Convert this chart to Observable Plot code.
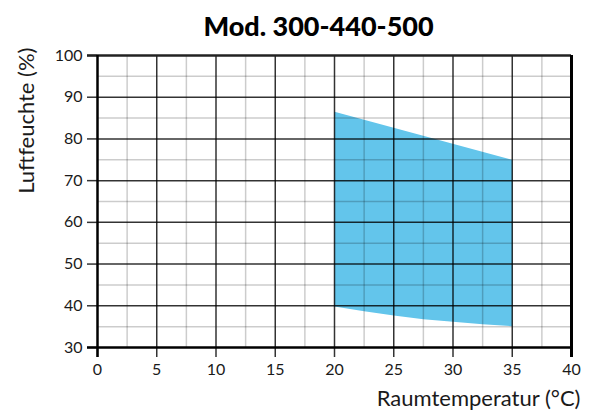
<!DOCTYPE html>
<html><head><meta charset="utf-8">
<script src="https://cdn.jsdelivr.net/npm/d3@7"></script>
<script src="https://cdn.jsdelivr.net/npm/@observablehq/plot@0.6"></script>
<style>body{margin:0;background:#fff;font-family:Lato,sans-serif}</style>
</head><body><div id="chart"></div>
<script>
const title = "Mod. 300-440-500";
const xLabel = "Raumtemperatur (°C)";
const yLabel = "Luftfeuchte (%)";
const xTicks = [0, 5, 10, 15, 20, 25, 30, 35, 40];
const yTicks = [30, 40, 50, 60, 70, 80, 90, 100];
const xMinor = [2.5, 7.5, 12.5, 17.5, 22.5, 27.5, 32.5, 37.5];
const yMinor = [35, 45, 55, 65, 75, 85, 95];
const upperTemp = [20, 35];
const upperHum = [86.5, 75];
const lowerTemp = [20, 22.5, 25, 27.5, 30, 32.5, 35];
const lowerHum = [39.8, 38.7, 37.7, 36.8, 36.2, 35.6, 35.1];

const polygon = [
  ...upperTemp.map((t, i) => ({t, h: upperHum[i]})),
  ...lowerTemp.map((t, i) => ({t, h: lowerHum[i]})).reverse()
];
const xMajor = xTicks.filter(v => v > 0 && v < 40);
const yMajor = yTicks.filter(v => v > 30 && v < 100);

const chart = Plot.plot({
  width: 590, height: 410,
  marginLeft: 97, marginRight: 19, marginTop: 55, marginBottom: 63,
  x: {domain: [0, 40]},
  y: {domain: [30, 100]},
  style: {fontFamily: "Lato, sans-serif", fontSize: "16px", color: "#1a1a1a", background: "#fff"},
  marks: [
    Plot.line(polygon, {x: "t", y: "h", fill: "#63C5EB", stroke: "none", curve: "linear"}),
    Plot.ruleX(xMinor, {stroke: "#000", strokeOpacity: 0.2, strokeWidth: 1.5}),
    Plot.ruleY(yMinor, {stroke: "#000", strokeOpacity: 0.2, strokeWidth: 1.5}),
    Plot.ruleX(xMajor, {stroke: "#000", strokeOpacity: 0.8, strokeWidth: 1.5}),
    Plot.ruleY(yMajor, {stroke: "#000", strokeOpacity: 0.8, strokeWidth: 1.5}),
    Plot.axisX(xTicks, {tickSize: 10, tickPadding: 6, stroke: "#333", strokeWidth: 1.5, label: null, fontSize: 16}),
    Plot.axisY(yTicks, {tickSize: 10, tickPadding: 5, stroke: "#333", strokeWidth: 1.5, label: null, fontSize: 16}),
    Plot.ruleY([100], {stroke: "#222", strokeWidth: 2.5, insetLeft: -10}),
    Plot.ruleY([30], {stroke: "#000", strokeWidth: 2.5, insetLeft: -10}),
    Plot.ruleX([0], {stroke: "#000", strokeWidth: 2.5, insetBottom: -10}),
    Plot.ruleX([40], {stroke: "#000", strokeWidth: 3, insetBottom: -10}),
    Plot.text([title], {frameAnchor: "top", dx: -16, dy: -28, lineAnchor: "middle", fontSize: 27, fontWeight: 900, fill: "#000"}),
    Plot.text([yLabel], {frameAnchor: "top-left", dx: -71, dy: -8, rotate: -90, textAnchor: "end", lineAnchor: "middle", fontSize: 22, fill: "#1a1a1a"}),
    Plot.text([xLabel], {frameAnchor: "bottom-right", dx: 9, dy: 51, textAnchor: "end", lineAnchor: "middle", fontSize: 22, fill: "#1a1a1a"})
  ]
});
document.getElementById("chart").appendChild(chart);
</script></body></html>
